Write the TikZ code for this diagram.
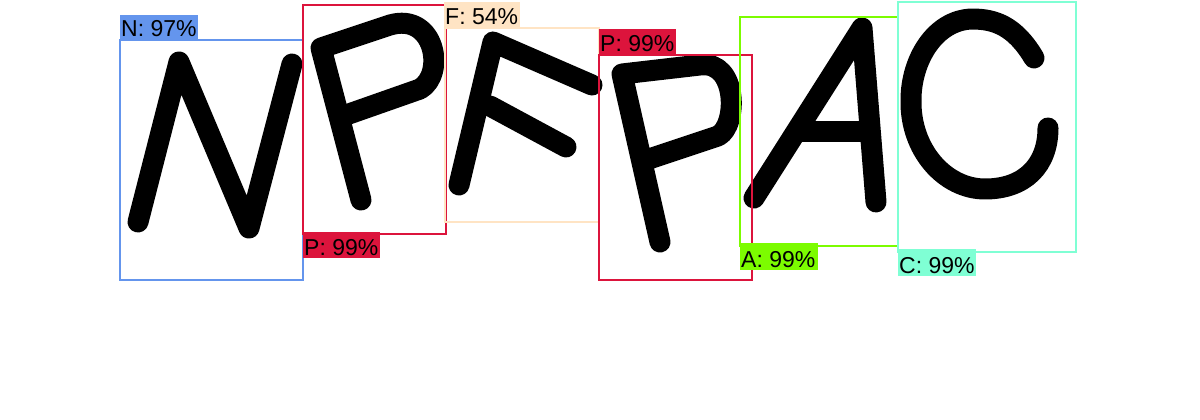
\documentclass[tikz,border=0pt]{standalone}
\usepackage{fontspec}
\setmainfont{Liberation Sans}
\definecolor{cNblue}{HTML}{6495ED}
\definecolor{cPred}{HTML}{DC143C}
\definecolor{cFpeach}{HTML}{FFE4C4}
\definecolor{cAgreen}{HTML}{7CFC00}
\definecolor{cCaqua}{HTML}{7FFFD4}
\begin{document}
\begin{tikzpicture}[x=1pt,y=-1pt,
  glyph/.style={line width=21pt, line cap=round, line join=round, draw=black},
  detbox/.style={line width=2pt},
  lab/.style={inner sep=0pt, anchor=base west, font=\fontsize{23}{23}\selectfont, text=black}]
\useasboundingbox[fill=white] (0,0) rectangle (1200,420);
% letters
\draw[glyph] (138,222) -- (179,62) -- (249,228) -- (292,64);
\draw[glyph] (361,200) -- (321,48) -- (390,25) .. controls (435,12) and (446,74) .. (420,89) -- (346,115);
\draw[glyph] (459,185) -- (493,42) -- (592,85);
\draw[glyph] (490,106) -- (566,147);
\draw[glyph] (660,242) -- (622,74) -- (700,65) .. controls (738,60) and (738,126) .. (718,136) -- (646,160);
\draw[glyph] (754,198) -- (862,28) -- (876,202);
\draw[glyph] (802,131) -- (866,131);
\draw[glyph] (1034,58) .. controls (1015,26) and (995,19) .. (972,19) .. controls (935,20) and (911,60) .. (911,100) .. controls (910,150) and (945,189) .. (985,189) .. controls (1025,189) and (1048,165) .. (1048,128);
% boxes and labels
\draw[detbox, cNblue] (120,40) rectangle (303,280);
\fill[cNblue] (120,15) rectangle (198,40);
\node[lab] (labN) at (121,37) {N: 97\%};
\draw[detbox, cPred] (303,5) rectangle (446,234);
\fill[cPred] (303,232) rectangle (380,258);
\node[lab] (labP1) at (304,255) {P: 99\%};
\draw[detbox, cFpeach] (445,28) rectangle (599,222);
\fill[cFpeach] (444,2) rectangle (520,28);
\node[lab] (labF) at (445,25) {F: 54\%};
\draw[detbox, cPred] (599,55) rectangle (752,280);
\fill[cPred] (599,29) rectangle (676,55);
\node[lab] (labP2) at (600,52) {P: 99\%};
\draw[detbox, cAgreen] (740,17) rectangle (898,246);
\fill[cAgreen] (740,243) rectangle (818,270);
\node[lab] (labA) at (741,267) {A: 99\%};
\draw[detbox, cCaqua] (898,2) rectangle (1076,252);
\fill[cCaqua] (898,249) rectangle (976,276);
\node[lab] (labC) at (899,273) {C: 99\%};
\end{tikzpicture}
\end{document}
